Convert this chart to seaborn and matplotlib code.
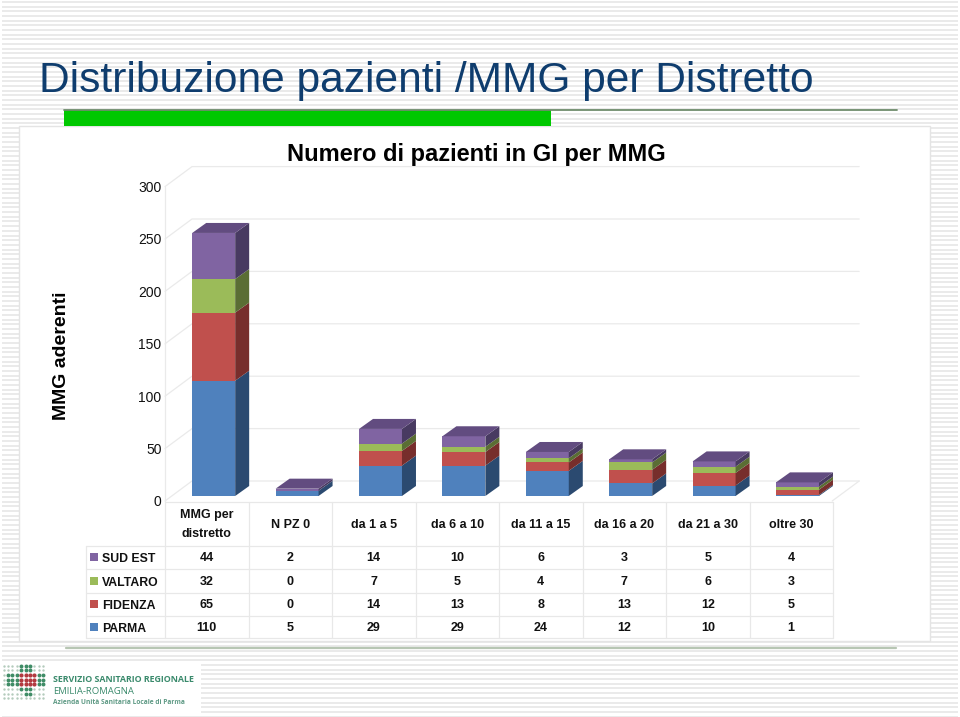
import numpy as np
import pandas as pd
import matplotlib.pyplot as plt
import seaborn as sns
from matplotlib.patches import Polygon, Rectangle
from matplotlib.transforms import ScaledTranslation

sns.set_style('white')
plt.rcParams['font.family'] = ['Liberation Sans', 'DejaVu Sans']

# --- Data ---
categories = ['MMG per\ndistretto', 'N PZ 0', 'da 1 a 5', 'da 6 a 10',
              'da 11 a 15', 'da 16 a 20', 'da 21 a 30', 'oltre 30']
parma = [110, 5, 29, 29, 24, 12, 10, 1]
fidenza = [65, 0, 14, 13, 8, 13, 12, 5]
valtaro = [32, 0, 7, 5, 4, 7, 6, 3]
sud_est = [44, 2, 14, 10, 6, 3, 5, 4]
y_ticks = [0, 50, 100, 150, 200, 250, 300]

# stacking order, bottom first
series_names = ['PARMA', 'FIDENZA', 'VALTARO', 'SUD EST']
series_values = [parma, fidenza, valtaro, sud_est]
front_colors = ['#4F81BD', '#C0504D', '#9BBB59', '#8064A2']
side_colors = ['#2B4A70', '#772E2C', '#5A6E34', '#483A61']
top_color = '#624C80'

W, H = 960, 717
PX_X = 83.4      # pixels per category
PX_Y = 1.048     # pixels per patient
BAR_W = 0.515

fig = plt.figure(figsize=(W / 100, H / 100), dpi=100, facecolor='white')

# --- Slide background, pixel coordinates ---
bg = fig.add_axes([0, 0, 1, 1], zorder=0)
bg.set_xlim(0, W)
bg.set_ylim(H, 0)
bg.axis('off')

bg.hlines(np.arange(2, H, 4.67), 2, 958, color='#E4E4E4', lw=1.1, zorder=0)
bg.add_patch(Rectangle((18.5, 126), 911.5, 515, fc='white', ec='#E4E4E4', lw=1))
bg.add_patch(Rectangle((64, 110), 487, 16, fc='#00C800', ec='none'))
bg.plot([64, 897], [109.5, 109.5], color='#6F8C6C', lw=1.3)
bg.plot([66, 896], [647.5, 647.5], color='#B7C6B3', lw=1.6)
bg.add_patch(Rectangle((0, 662), 201, 53, fc='white', ec='none'))

bg.text(39, 92, 'Distribuzione pazienti /MMG per Distretto', fontsize=30.6,
        color='#0F3D6E', va='baseline', ha='left')
bg.text(476, 154, 'Numero di pazienti in GI per MMG', fontsize=17, weight='bold',
        color='black', va='center', ha='center')
bg.text(62, 356, 'MMG aderenti', fontsize=14, weight='bold', rotation=90,
        color='black', va='center', ha='center')

# --- Data table under the chart ---
col_edges = [165 + 83.5 * i for i in range(9)]
row_edges = [545.5, 569, 592.5, 616, 637.5]
line_col = '#E8E8E8'
for y in row_edges:
    bg.plot([85.5, 833], [y, y], color=line_col, lw=0.9)
bg.plot([165, 833], [501.5, 501.5], color=line_col, lw=0.9)
for x in col_edges:
    bg.plot([x, x], [501.5, 637.5], color=line_col, lw=0.9)
bg.plot([85.5, 85.5], [545.5, 637.5], color=line_col, lw=0.9)

for i, cat in enumerate(categories):
    bg.text(col_edges[i] + 41.75, 524.5, cat, fontsize=9, weight='bold', ha='center',
            va='center', color='#111111', linespacing=1.75)

# table rows run top to bottom in reverse stacking order
for r, idx in enumerate([3, 2, 1, 0]):
    yc = (row_edges[r] + row_edges[r + 1]) / 2
    bg.add_patch(Rectangle((90, yc - 4), 8, 8, fc=front_colors[idx], ec='none'))
    bg.text(102, yc + 2, series_names[idx], fontsize=8.8, color='#111111',
            ha='left', va='center', weight='bold')
    for i, val in enumerate(series_values[idx]):
        bg.text(col_edges[i] + 41.75, yc + 1, str(val), fontsize=9, weight='bold',
                ha='center', va='center', color='#111111')

# --- Logo ---
logo_dots = ['llllggglll', 'llllggglll', 'lgggrrrrgg', 'lgggrrrrgg',
             'lgggrrrrgg', 'llllggglll', 'lllllgglll', 'llllllllll']
dot_style = {'l': ('#B4CBBC', 3), 'g': ('#3F8C66', 8), 'r': ('#B23A40', 9)}
for r, row in enumerate(logo_dots):
    for c, code in enumerate(row):
        col, size = dot_style[code]
        bg.scatter(3.5 + 4.4 * c, 665.5 + 4.7 * r, s=size, color=col, linewidths=0, zorder=3)
bg.text(53, 680, 'SERVIZIO SANITARIO REGIONALE', family='Open Sans', weight='bold',
        fontsize=6.4, color='#3A8A6C', va='center')
bg.text(53, 691, 'EMILIA-ROMAGNA', family='Open Sans', fontsize=6.8, color='#3A8A6C', va='center')
bg.text(53, 702.5, 'Azienda Unità Sanitaria Locale di Parma', family='Open Sans', weight='bold',
        fontsize=4.8, color='#5F9A85', va='center')

# --- Chart, plane of the bar fronts ---
x0, y0 = 172, 496
ax = fig.add_axes([x0 / W, 1 - y0 / H, PX_X * 8 / W, PX_Y * 300 / H], zorder=1)
ax.patch.set_alpha(0)

# stacked fronts
bottom = np.zeros(len(categories))
bottoms = []
labels = [c.replace('\n', ' ') for c in categories]
for name, vals, col in zip(series_names, series_values, front_colors):
    df = pd.DataFrame({'cat': labels, 'val': vals})
    sns.barplot(data=df, x='cat', y='val', color=col, saturation=1, width=BAR_W,
                bottom=bottom, ax=ax, zorder=3, edgecolor='none', linewidth=0)
    bottoms.append(bottom.copy())
    bottom = bottom + np.array(vals)

ax.set_xlim(-0.5, 7.5)
ax.set_ylim(0, 300)
ax.set_xlabel('')
ax.set_ylabel('')

# depth of the bars in data units
dx = 14 / PX_X
dy = 10 / PX_Y

for s, vals in enumerate(series_values):
    for i, v in enumerate(vals):
        if v == 0:
            continue
        b = bottoms[s][i]
        t = b + v
        right = i + BAR_W / 2
        ax.add_patch(Polygon([(right, b), (right + dx, b + dy), (right + dx, t + dy), (right, t)],
                             fc=side_colors[s], ec='none', zorder=3))
for i, t in enumerate(bottom):
    left, right = i - BAR_W / 2, i + BAR_W / 2
    ax.add_patch(Polygon([(left, t), (left + dx, t + dy), (right + dx, t + dy), (right, t)],
                         fc=top_color, ec='none', zorder=3))

# walls and floor, in front of and behind the bar plane
fx, fy = -7 / PX_X, -5 / PX_Y
bx, by = 20 / PX_X, 15 / PX_Y
grid_col = '#EAEAEA'
for v in y_ticks:
    ax.plot([-0.5 + fx, -0.5 + bx, 7.5 + bx], [v + fy, v + by, v + by], color=grid_col,
            lw=0.9, clip_on=False, zorder=1)
ax.plot([-0.5 + fx, -0.5 + fx], [fy, 300 + fy], color=grid_col, lw=0.9, clip_on=False, zorder=1)
ax.plot([7.5 + fx, 7.5 + bx], [fy, by], color=grid_col, lw=0.9, clip_on=False, zorder=1)

sns.despine(ax=ax, left=True, bottom=True)
ax.set_xticks([])
ax.set_yticks(y_ticks)
ax.set_yticklabels([str(v) for v in y_ticks], fontsize=10, color='#111111')
ax.tick_params(axis='y', length=0, pad=7.5)
shift = ScaledTranslation(0, 5 / 100 * -1, fig.dpi_scale_trans)
for lab in ax.get_yticklabels():
    lab.set_transform(lab.get_transform() + shift)

fig.savefig('out.png', dpi=100)
plt.close(fig)
